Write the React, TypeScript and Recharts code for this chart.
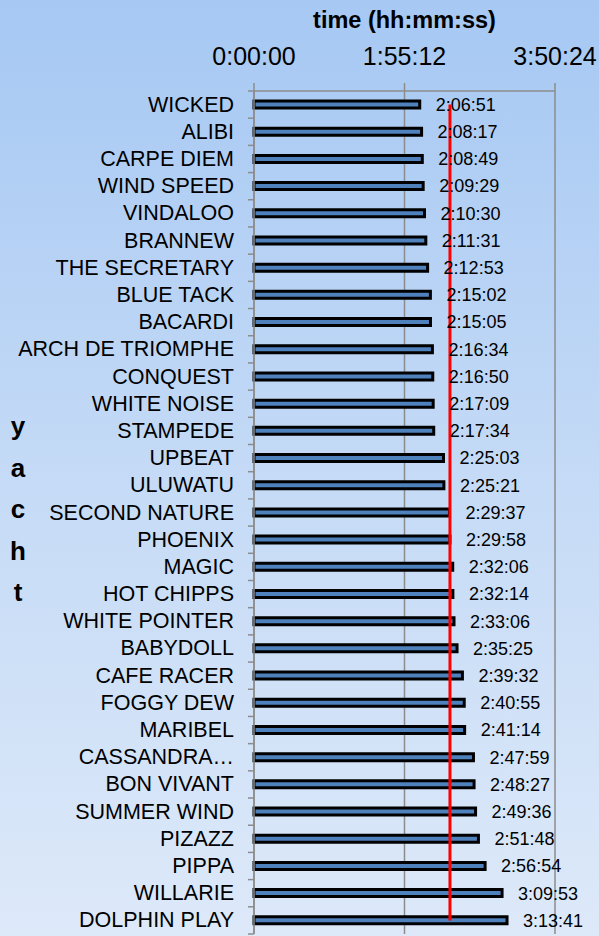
import React from 'react';
import { BarChart, Bar, XAxis, YAxis, CartesianGrid, ReferenceLine, LabelList } from 'recharts';

const yachts = [
  'WICKED', 'ALIBI', 'CARPE DIEM', 'WIND SPEED', 'VINDALOO', 'BRANNEW', 'THE SECRETARY',
  'BLUE TACK', 'BACARDI', 'ARCH DE TRIOMPHE', 'CONQUEST', 'WHITE NOISE', 'STAMPEDE', 'UPBEAT',
  'ULUWATU', 'SECOND NATURE', 'PHOENIX', 'MAGIC', 'HOT CHIPPS', 'WHITE POINTER', 'BABYDOLL',
  'CAFE RACER', 'FOGGY DEW', 'MARIBEL', 'CASSANDRA…', 'BON VIVANT', 'SUMMER WIND', 'PIZAZZ',
  'PIPPA', 'WILLARIE', 'DOLPHIN PLAY',
];

const times = [
  '2:06:51', '2:08:17', '2:08:49', '2:09:29', '2:10:30', '2:11:31', '2:12:53',
  '2:15:02', '2:15:05', '2:16:34', '2:16:50', '2:17:09', '2:17:34', '2:25:03',
  '2:25:21', '2:29:37', '2:29:58', '2:32:06', '2:32:14', '2:33:06', '2:35:25',
  '2:39:32', '2:40:55', '2:41:14', '2:47:59', '2:48:27', '2:49:36', '2:51:48',
  '2:56:54', '3:09:53', '3:13:41',
];

const xTicks = ['0:00:00', '1:55:12', '3:50:24'];
const cutoff = '2:30:00';

const toSec = (t: string) => {
  const [h, m, s] = t.split(':').map(Number);
  return h * 3600 + m * 60 + s;
};
const fmt = (v: number) => {
  const h = Math.floor(v / 3600);
  const m = Math.floor((v % 3600) / 60);
  const s = Math.round(v % 60);
  return `${h}:${String(m).padStart(2, '0')}:${String(s).padStart(2, '0')}`;
};

const data = yachts.map((name, i) => ({ name, sec: toSec(times[i]) }));
const tickVals = xTicks.map(toSec);

const W = 599;
const H = 936;
const TOP = 91;
const BOTTOM_M = 2;
const BAND = (H - TOP - BOTTOM_M) / yachts.length;
const FONT = 'Arial, "Liberation Sans", sans-serif';

// excel style: tick marks sit between categories, not on them
const YTick = (props: any) => {
  const { x, y, payload, index } = props;
  const ax = x + 20;
  return (
    <g>
      <line x1={ax - 6} x2={ax} y1={y - BAND / 2} y2={y - BAND / 2} stroke="#8c8c8c" strokeWidth={1.5} />
      {index === yachts.length - 1 && (
        <line x1={ax - 6} x2={ax} y1={y + BAND / 2} y2={y + BAND / 2} stroke="#8c8c8c" strokeWidth={1.5} />
      )}
      <text x={x} y={y} dy={7} textAnchor="end" fontSize={21.5} fontFamily={FONT} fill="#000">
        {payload.value}
      </text>
    </g>
  );
};

export default function App() {
  return (
    <div
      style={{
        position: 'absolute',
        left: 0,
        top: 0,
        width: W,
        height: H,
        overflow: 'hidden',
        background: 'linear-gradient(180deg, #a6c8f3 0%, #c4daf6 50%, #dde9f9 100%)',
        fontFamily: FONT,
      }}
    >
      <div
        style={{
          position: 'absolute',
          left: 254,
          width: 301,
          top: 5,
          textAlign: 'center',
          fontWeight: 'bold',
          fontSize: 23.5,
          lineHeight: '30px',
        }}
      >
        time (hh:mm:ss)
      </div>
      <div
        style={{
          position: 'absolute',
          left: 4,
          width: 28,
          top: 406,
          textAlign: 'center',
          fontWeight: 'bold',
          fontSize: 26,
          lineHeight: '41.5px',
        }}
      >
        {['y', 'a', 'c', 'h', 't'].map((c) => (
          <div key={c}>{c}</div>
        ))}
      </div>
      <div style={{ position: 'absolute', left: 0, top: 0 }}>
        <BarChart
          width={W}
          height={H}
          data={data}
          layout="vertical"
          margin={{ top: 0, right: 44, bottom: BOTTOM_M, left: 0 }}
        >
          <CartesianGrid horizontal={false} stroke="#8c8c8c" strokeWidth={1.5} />
          <XAxis
            type="number"
            orientation="top"
            domain={[0, tickVals[2]]}
            ticks={tickVals}
            interval={0}
            height={TOP}
            tickFormatter={fmt}
            stroke="#8c8c8c"
            strokeWidth={1.5}
            tickSize={8}
            tickMargin={18}
            tick={{ fill: '#000', fontSize: 25, fontFamily: FONT }}
          />
          <YAxis
            type="category"
            dataKey="name"
            width={254}
            interval={0}
            tickLine={false}
            tickSize={6}
            tickMargin={14}
            stroke="#8c8c8c"
            strokeWidth={1.5}
            tick={<YTick />}
          />
          <Bar
            dataKey="sec"
            fill="#4f81bd"
            stroke="#000"
            strokeWidth={3}
            barSize={7}
            isAnimationActive={false}
          >
            <LabelList
              dataKey="sec"
              position="right"
              offset={16}
              formatter={(v: any) => fmt(Number(v))}
              fill="#000"
              fontSize={18}
              fontFamily={FONT}
            />
          </Bar>
          <ReferenceLine
            segment={[
              { x: toSec(cutoff), y: yachts[0] },
              { x: toSec(cutoff), y: yachts[yachts.length - 1] },
            ]}
            stroke="#ff0000"
            strokeWidth={3}
          />
        </BarChart>
      </div>
    </div>
  );
}
